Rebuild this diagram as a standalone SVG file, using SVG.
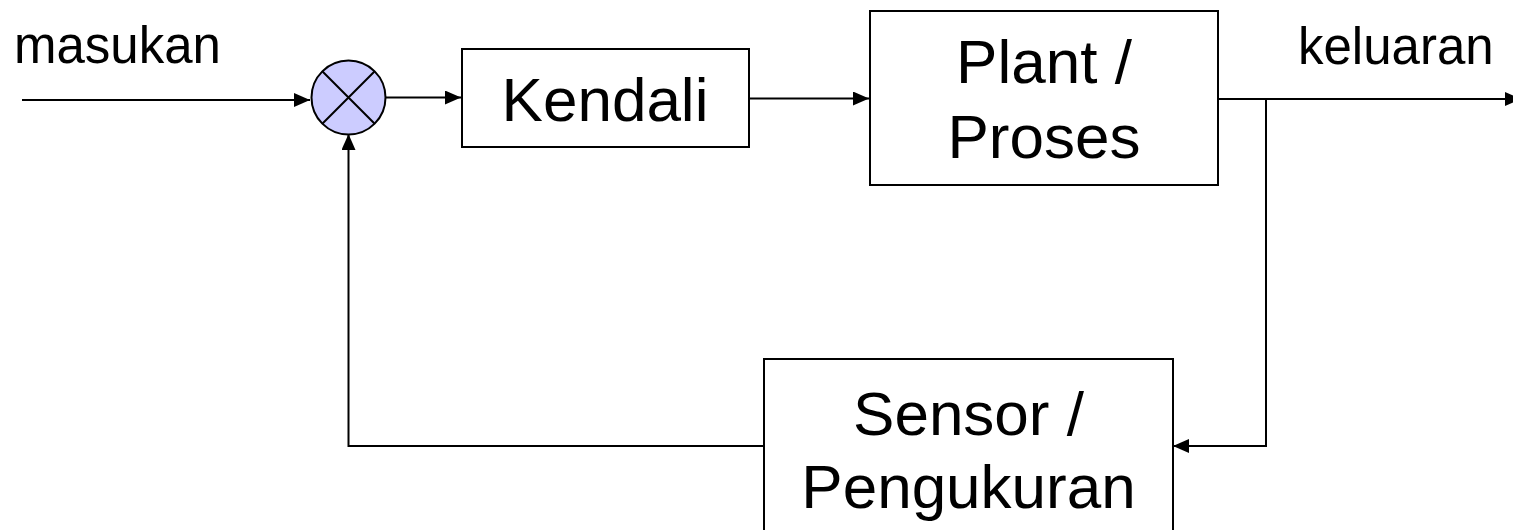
<svg xmlns="http://www.w3.org/2000/svg" width="1513" height="530" viewBox="0 0 1513 530">
<style>
.box{fill:#fff;stroke:#000;stroke-width:2}
.ln{fill:none;stroke:#000;stroke-width:2}
.lbl{font-family:"Liberation Sans",Arial,sans-serif;font-size:62px;fill:#000;text-anchor:middle}
.io{font-family:"Liberation Sans",Arial,sans-serif;font-size:51px;fill:#000}
</style>
<defs>
<marker id="arr" markerWidth="16" markerHeight="14" refX="16" refY="7" orient="auto" markerUnits="userSpaceOnUse">
<path d="M0,0 L16,7 L0,14 Z" fill="#000"/>
</marker>
</defs>
<rect width="1513" height="530" fill="#fff"/>
<g id="connectors">
<path class="ln" d="M22,100 L310,100" marker-end="url(#arr)"/>
<path class="ln" d="M386,97.5 L461,97.5" marker-end="url(#arr)"/>
<path class="ln" d="M749,98.5 L869,98.5" marker-end="url(#arr)"/>
<path class="ln" d="M1218,99 L1521,99" marker-end="url(#arr)"/>
<path class="ln" d="M1266,99 L1266,446 L1173,446" marker-end="url(#arr)"/>
<path class="ln" d="M764,446 L348.5,446 L348.5,134" marker-end="url(#arr)"/>
</g>
<g id="sum">
<circle cx="348.5" cy="97.5" r="37" fill="#ccccff" stroke="#000" stroke-width="2"/>
<path class="ln" d="M322.3,71.3 L374.7,123.7 M374.7,71.3 L322.3,123.7"/>
</g>
<g id="kendali">
<rect class="box" x="462" y="49" width="287" height="98"/>
<text class="lbl" x="605" y="121">Kendali</text>
</g>
<g id="plant">
<rect class="box" x="870" y="11" width="348" height="174"/>
<text class="lbl" x="1044" y="83">Plant /</text>
<text class="lbl" x="1044" y="158">Proses</text>
</g>
<g id="sensor">
<rect class="box" x="764" y="359" width="409" height="180"/>
<text class="lbl" x="968.5" y="435">Sensor /</text>
<text class="lbl" x="968.5" y="508">Pengukuran</text>
</g>
<g id="labels">
<text class="io" x="14" y="63">masukan</text>
<text class="io" x="1298" y="64">keluaran</text>
</g>
</svg>
